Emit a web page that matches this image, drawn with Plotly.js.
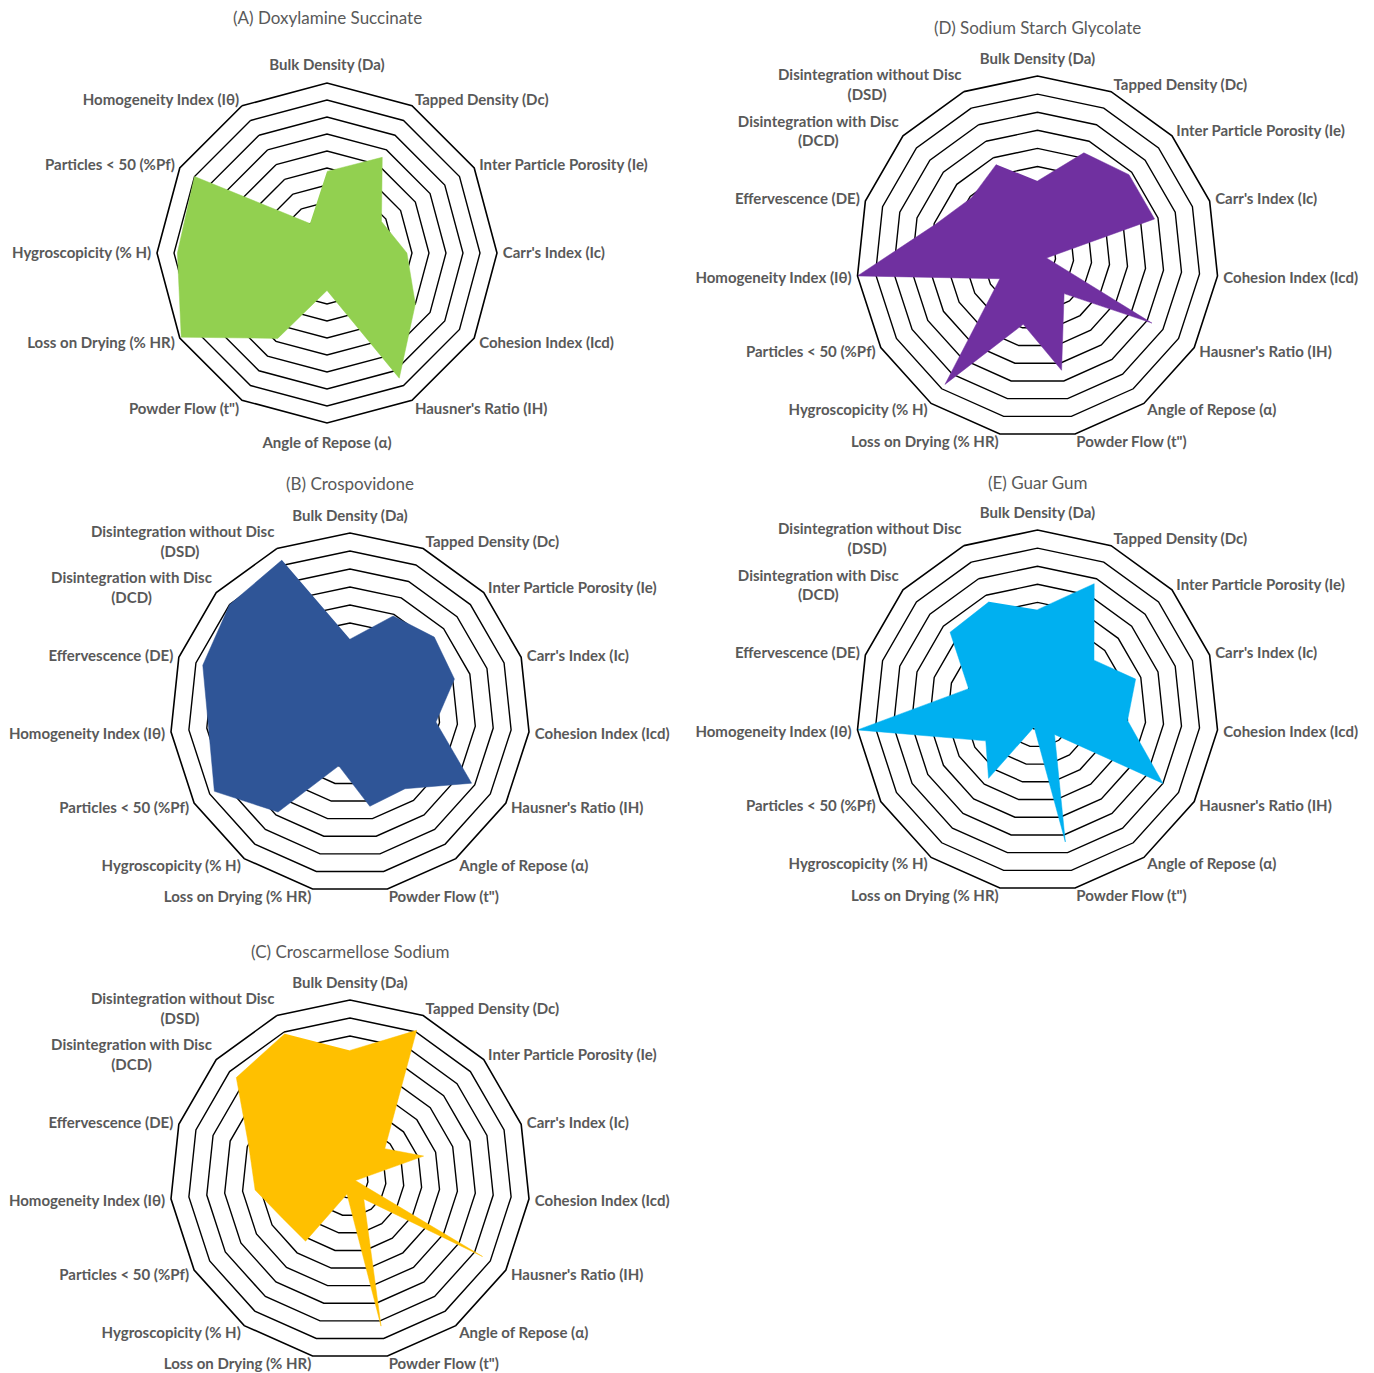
<!DOCTYPE html>
<html>
<head>
<meta charset="utf-8">
<script src="https://cdn.plot.ly/plotly-3.0.1.min.js"></script>
<style>html,body{margin:0;padding:0;background:#fff;}#chart{width:1374px;height:1373px;}</style>
</head>
<body>
<div id="chart"></div>
<script>
// Axis labels (clockwise from top)
const labels12 = [
  "Bulk Density (Da)", "Tapped Density (Dc)", "Inter Particle Porosity (Ie)", "Carr's Index (Ic)",
  "Cohesion Index (Icd)", "Hausner's Ratio (IH)", "Angle of Repose (α)", "Powder Flow (t\")",
  "Loss on Drying (% HR)", "Hygroscopicity (% H)", "Particles < 50 (%Pf)", "Homogeneity Index (Iθ)"
];
const labels15 = [
  "Bulk Density (Da)", "Tapped Density (Dc)", "Inter Particle Porosity (Ie)", "Carr's Index (Ic)",
  "Cohesion Index (Icd)", "Hausner's Ratio (IH)", "Angle of Repose (α)", "Powder Flow (t\")",
  "Loss on Drying (% HR)", "Hygroscopicity (% H)", "Particles < 50 (%Pf)", "Homogeneity Index (Iθ)",
  "Effervescence (DE)", "Disintegration with Disc<br>(DCD)", "Disintegration without Disc<br>(DSD)"
];

// Titles
const titleA = "(A) Doxylamine Succinate";
const titleB = "(B) Crospovidone";
const titleC = "(C) Croscarmellose Sodium";
const titleD = "(D) Sodium Starch Glycolate";
const titleE = "(E) Guar Gum";

// Values (0-10 scale)
const valuesA = [4.8, 6.5, 3.7, 4.7, 6.0, 8.5, 2.2, 5.8, 9.9, 8.8, 9.0, 2.0];
const valuesB = [4.1, 5.9, 6.3, 6.1, 4.8, 7.8, 5.2, 5.3, 3.0, 6.8, 8.7, 7.9, 8.6, 9.0, 9.3];
const valuesC = [7.2, 9.1, 2.6, 4.3, 0.3, 8.5, 1.3, 8.3, 0.8, 4.2, 4.3, 5.3, 5.9, 8.5, 8.9];
const valuesD = [4.2, 6.3, 6.8, 6.8, 0.5, 7.3, 2.5, 6.4, 3.8, 8.7, 2.4, 10, 5.9, 4.9, 5.6];
const valuesE = [5.6, 7.7, 4.2, 5.7, 5.0, 8.0, 1.6, 7.4, 0.9, 4.6, 3.3, 10, 4.0, 6.5, 6.6];

const W = 1374, H = 1373;
const LABEL_SIZE = 15;
const labelFont = {family: "Lato, 'Open Sans', sans-serif", size: LABEL_SIZE, color: "#595959", weight: "bold"};
const titleFont = {family: "Lato, 'Open Sans', sans-serif", size: 17, color: "#595959"};

// Small vertical nudges (px) of the angular labels, by axis position, to mimic the original label placement
const nudge12 = [-4, 4, 2, 0, -5, -7, 4, -7, -5, 0, 2, 4];
const nudge15 = [-3, 4, 2, 1, 0, -5, -8, -8, -8, -8, -5, 0, 1, 9, 13];

// Center the second line of two-line labels (they are right-anchored on the left side)
const ctx = document.createElement("canvas").getContext("2d");
ctx.font = "bold " + LABEL_SIZE + "px Lato";
function centerLines(lbl) {
  const parts = lbl.split("<br>");
  if (parts.length < 2) return lbl;
  const w1 = ctx.measureText(parts[0]).width;
  const w2 = ctx.measureText(parts[1]).width;
  const wEn = ctx.measureText("\u2002").width || LABEL_SIZE / 2;
  const n = Math.max(0, Math.round((w1 - w2) / 2 / wEn));
  return parts[0] + "<br>" + parts[1] + "\u2002".repeat(n);
}
const cats12 = labels12.map(centerLines);
const cats15 = labels15.map(centerLines);

function domainFor(cx, cy, R) {
  return {x: [(cx - R) / W, (cx + R) / W], y: [1 - (cy + R) / H, 1 - (cy - R) / H]};
}
function polarFor(cx, cy, R, cats) {
  return {
    domain: domainFor(cx, cy, R),
    bgcolor: "#fff",
    gridshape: "linear",
    radialaxis: {range: [0, 10], dtick: 1, tick0: 0, showticklabels: false, ticks: "",
      showline: false, gridcolor: "#000", gridwidth: 1.4},
    angularaxis: {type: "category", categoryorder: "array", categoryarray: cats,
      direction: "clockwise", rotation: 90, showgrid: false, showline: true,
      linecolor: "#000", linewidth: 1.6, ticks: "outside", ticklen: 2,
      tickcolor: "rgba(0,0,0,0)", tickfont: labelFont}
  };
}
function trace(vals, cats, color, sub) {
  return {type: "scatterpolar", r: vals, theta: cats, fill: "toself", mode: "lines",
    line: {color: color, width: 0.5}, fillcolor: color, subplot: sub, hoverinfo: "skip"};
}

const data = [
  trace(valuesA, cats12, "#92D050", "polar"),
  trace(valuesB, cats15, "#2F5597", "polar2"),
  trace(valuesC, cats15, "#FFC000", "polar3"),
  trace(valuesD, cats15, "#7030A0", "polar4"),
  trace(valuesE, cats15, "#00B0F0", "polar5")
];

function ann(text, x, y) {
  return {text: text, x: x / W, y: 1 - y / H, xref: "paper", yref: "paper",
    showarrow: false, font: titleFont, xanchor: "center", yanchor: "middle"};
}

const layout = {
  width: W, height: H,
  margin: {l: 0, r: 0, t: 0, b: 0, autoexpand: false},
  paper_bgcolor: "#fff",
  showlegend: false,
  polar: polarFor(327, 253, 170, cats12),
  polar2: polarFor(350, 713, 180, cats15),
  polar3: polarFor(350, 1180, 180, cats15),
  polar4: polarFor(1037.5, 257, 181, cats15),
  polar5: polarFor(1037.5, 711, 181, cats15),
  annotations: [
    ann(titleA, 327, 17), ann(titleB, 350, 484), ann(titleC, 350, 951),
    ann(titleD, 1037, 28), ann(titleE, 1037, 483)
  ]
};

Plotly.newPlot("chart", data, layout, {staticPlot: true}).then(function (gd) {
  const subs = {polar: labels12, polar2: labels15, polar3: labels15, polar4: labels15, polar5: labels15};
  Object.keys(subs).forEach(function (id) {
    const grp = gd.querySelector(".polarlayer g." + id);
    if (!grp) return;
    const lbls = subs[id];
    const nudges = lbls.length === 12 ? nudge12 : nudge15;
    grp.querySelectorAll("text").forEach(function (t) {
      const txt = t.textContent;
      const idx = lbls.findIndex(function (l) { return txt.indexOf(l.split("<br>")[0]) === 0; });
      if (idx < 0) return;
      const tr = t.getAttribute("transform") || "";
      t.setAttribute("transform", tr + " translate(0," + nudges[idx] + ")");
    });
  });
});
</script>
</body>
</html>
